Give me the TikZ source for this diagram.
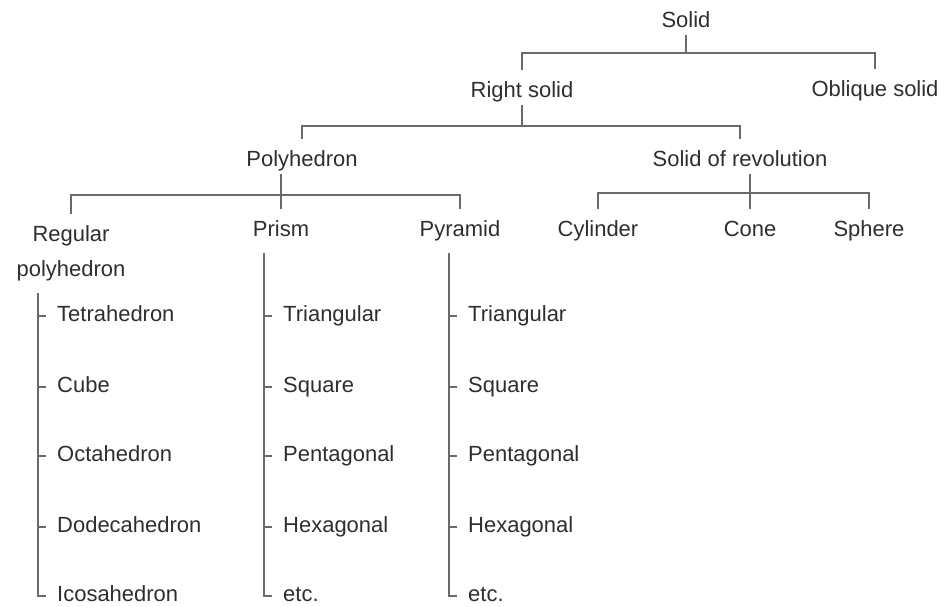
\documentclass[tikz,border=0pt]{standalone}
\usepackage{fontspec}
\setmainfont{Liberation Sans}
\usetikzlibrary{positioning}
\definecolor{inkGray}{HTML}{2E2E2E}
\definecolor{lineGray}{HTML}{6A6A6A}
\tikzset{
  cat/.style={text=inkGray, font=\fontsize{12.5}{15}\selectfont,
              inner xsep=2pt, inner ysep=1.5pt, text height=9pt, text depth=2.7pt},
  item/.style={cat, anchor=west, inner xsep=6.2pt},
  wire/.style={draw=lineGray, line width=0.7pt},
  twig/.style={wire, shorten >=5pt},
}
\begin{document}
\begin{tikzpicture}[x=0.02cm, y=-0.02cm]
    \useasboundingbox (0,0) rectangle (944,606);
    % bus levels
    \coordinate (lv1) at (0,53);
    \coordinate (lv2) at (0,126);
    \coordinate (lv3) at (0,195);
    \coordinate (lv4) at (0,193);
    % tree
    \node[cat] (solid) at (686,22) {Solid};
    \node[cat] (right) at (522,92) {Right solid};
    \node[cat] (oblique) at (875,91) {Oblique solid};
    \node[cat] (poly) at (302,161) {Polyhedron};
    \node[cat] (rev) at (740,161) {Solid of revolution};
    \node[cat, align=center, text height={}, text depth={}]
          (reg) at (71,253) {Regular\\[4.8pt]polyhedron};
    \node[cat] (prism) at (281,231) {Prism};
    \node[cat] (pyr) at (460,231) {Pyramid};
    \node[cat] (cyl) at (598,231) {Cylinder};
    \node[cat] (cone) at (750,231) {Cone};
    \node[cat] (sphere) at (869,231) {Sphere};
    \draw[twig] (solid.south) -- (solid |- lv1) -| (right.north);
    \draw[twig] (solid |- lv1) -| (oblique.north);
    \draw[twig] (right.south) -- (right |- lv2) -| (poly.north);
    \draw[twig] (right |- lv2) -| (rev.north);
    \draw[twig] (poly.south -| prism) -- (prism |- lv3) -| (reg.north);
    \draw[twig] (prism |- lv3) -- (prism.north);
    \draw[twig] (prism |- lv3) -| (pyr.north);
    \draw[twig] (rev.south -| cone) -- (cone |- lv4) -| (cyl.north);
    \draw[twig] (cone |- lv4) -- (cone.north);
    \draw[twig] (cone |- lv4) -| (sphere.north);
    % lists
    \coordinate (regtop) at (38,293);
    \coordinate (pritop) at (264,253);
    \coordinate (pyrtop) at (449,253);
    \node[item] (tet) at (46,316) {Tetrahedron};
    \node[item] (cube) at (46,387) {Cube};
    \node[item] (octa) at (46,456) {Octahedron};
    \node[item] (dode) at (46,527) {Dodecahedron};
    \node[item] (ico) at (46,596) {Icosahedron};
    \node[item] (ptri) at (272,316) {Triangular};
    \node[item] (psq) at (272,387) {Square};
    \node[item] (ppen) at (272,456) {Pentagonal};
    \node[item] (phex) at (272,527) {Hexagonal};
    \node[item] (petc) at (272,596) {etc.};
    \node[item] (ytri) at (457,316) {Triangular};
    \node[item] (ysq) at (457,387) {Square};
    \node[item] (ypen) at (457,456) {Pentagonal};
    \node[item] (yhex) at (457,527) {Hexagonal};
    \node[item] (yetc) at (457,596) {etc.};
    \draw[wire] (regtop) |- (ico.west);
    \draw[wire] (pritop) |- (petc.west);
    \draw[wire] (pyrtop) |- (yetc.west);
    \foreach \n in {tet, cube, octa, dode} \draw[wire] (regtop |- \n.west) -- (\n.west);
    \foreach \n in {ptri, psq, ppen, phex} \draw[wire] (pritop |- \n.west) -- (\n.west);
    \foreach \n in {ytri, ysq, ypen, yhex} \draw[wire] (pyrtop |- \n.west) -- (\n.west);
\end{tikzpicture}
\end{document}
